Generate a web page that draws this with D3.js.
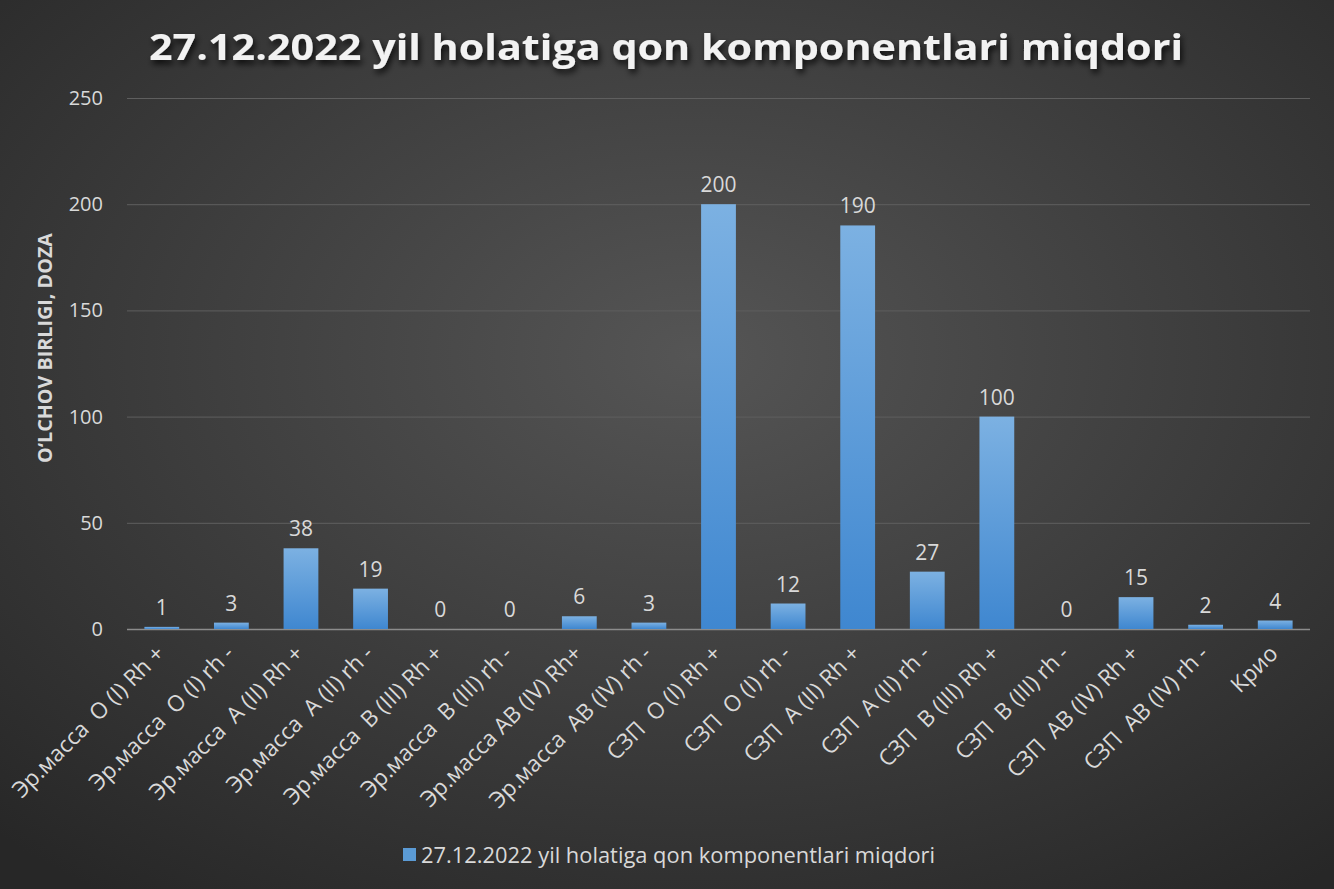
<!DOCTYPE html>
<html><head><meta charset="utf-8">
<script src="https://cdn.jsdelivr.net/npm/d3@7"></script>
<style>html,body{margin:0;padding:0;background:#333;}svg{display:block;}text{white-space:pre;}</style>
</head><body>
<script>
const categories = [
  "Эр.масса  O (I) Rh +", "Эр.масса  O (I) rh -", "Эр.масса  A (II) Rh +", "Эр.масса  A (II) rh -",
  "Эр.масса  B (III) Rh +", "Эр.масса  B (III) rh -", "Эр.масса AB (IV) Rh+", "Эр.масса  AB (IV) rh -",
  "СЗП  O (I) Rh +", "СЗП  O (I) rh -", "СЗП  A (II) Rh +", "СЗП  A (II) rh -",
  "СЗП  B (III) Rh +", "СЗП  B (III) rh -", "СЗП  AB (IV) Rh +", "СЗП  AB (IV) rh -", "Крио"
];
const values = [1, 3, 38, 19, 0, 0, 6, 3, 200, 12, 190, 27, 100, 0, 15, 2, 4];
const yTicks = [0, 50, 100, 150, 200, 250];
const title = "27.12.2022 yil holatiga qon komponentlari miqdori";
const seriesName = "27.12.2022 yil holatiga qon komponentlari miqdori";
const yAxisTitle = "O‘LCHOV BIRLIGI, DOZA";

(function(){
const W = 1334, H = 889;
const F = "'Open Sans', sans-serif";
const svg = d3.select("body").append("svg").attr("width", W).attr("height", H);
const defs = svg.append("defs");
const bg = defs.append("radialGradient").attr("id","bg").attr("cx","52%").attr("cy","40%").attr("r","75%");
bg.append("stop").attr("offset","0%").attr("stop-color","#555555");
bg.append("stop").attr("offset","100%").attr("stop-color","#272727");
const bar = defs.append("linearGradient").attr("id","bar").attr("x1",0).attr("y1",0).attr("x2",0).attr("y2",1);
bar.append("stop").attr("offset","0%").attr("stop-color","#7cb1e2");
bar.append("stop").attr("offset","100%").attr("stop-color","#3f87d0");
const sh = defs.append("filter").attr("id","sh").attr("x","-5%").attr("y","-30%").attr("width","110%").attr("height","170%");
sh.append("feDropShadow").attr("dx",2).attr("dy",4).attr("stdDeviation",3).attr("flood-color","#000").attr("flood-opacity",0.8);

svg.append("rect").attr("width",W).attr("height",H).attr("fill","url(#bg)");

const pl = 127, pr = 1310, pt = 98, pb = 629;
const x = d3.scaleBand().domain(categories).range([pl, pr]).paddingInner(0.5).paddingOuter(0.25);
const y = d3.scaleLinear().domain([0, 250]).range([pb, pt]);

const yAxis = d3.axisLeft(y).tickValues(yTicks).tickSize(-(pr-pl)).tickPadding(24);
const gy = svg.append("g").attr("transform",`translate(${pl},0)`).call(yAxis);
gy.select(".domain").remove();
gy.selectAll(".tick line").attr("stroke","#5f5f5f").attr("stroke-width",1);
gy.selectAll(".tick text").attr("fill","#d9d9d9").attr("font-family",F).attr("font-size",20);
gy.selectAll(".tick").filter(d=>d===0).select("line").attr("stroke","#8c8c8c").attr("stroke-width",1.5);

svg.append("g").selectAll("rect").data(values).join("rect")
  .attr("x",(d,i)=>x(categories[i]))
  .attr("y",d=>y(d))
  .attr("width",x.bandwidth())
  .attr("height",d=>y(0)-y(d))
  .attr("fill","url(#bar)");

svg.append("g").selectAll("text").data(values).join("text")
  .attr("x",(d,i)=>x(categories[i])+x.bandwidth()/2)
  .attr("y",d=>y(d)-12)
  .attr("text-anchor","middle")
  .attr("fill","#d9d9d9")
  .attr("font-family",F)
  .attr("font-size",21)
  .text(d=>d);

svg.append("g").selectAll("text").data(categories).join("text")
  .attr("transform",d=>`translate(${x(d)+x.bandwidth()/2+4},${pb+26}) rotate(-45)`)
  .attr("text-anchor","end")
  .attr("fill","#d9d9d9")
  .attr("font-family",F)
  .attr("font-size",22.5)
  .text(d=>d);

svg.append("text")
  .attr("transform","translate(52,348) rotate(-90)")
  .attr("text-anchor","middle")
  .attr("fill","#d9d9d9")
  .attr("font-family",F)
  .attr("font-weight","bold")
  .attr("font-size",19)
  .attr("textLength",230).attr("lengthAdjust","spacingAndGlyphs")
  .text(yAxisTitle);

svg.append("text")
  .attr("x",666).attr("y",60)
  .attr("text-anchor","middle")
  .attr("fill","#f2f2f2")
  .attr("font-family",F)
  .attr("font-weight","bold")
  .attr("font-size",36)
  .attr("textLength",1034).attr("lengthAdjust","spacingAndGlyphs")
  .attr("filter","url(#sh)")
  .text(title);

const lg = svg.append("g");
lg.append("rect").attr("x",403).attr("y",848).attr("width",13).attr("height",13).attr("fill","#5b9bd5");
lg.append("text").attr("x",421).attr("y",863)
  .attr("fill","#d9d9d9").attr("font-family",F).attr("font-size",21)
  .attr("textLength",514).attr("lengthAdjust","spacingAndGlyphs")
  .text(seriesName);
})();
</script>
</body></html>
